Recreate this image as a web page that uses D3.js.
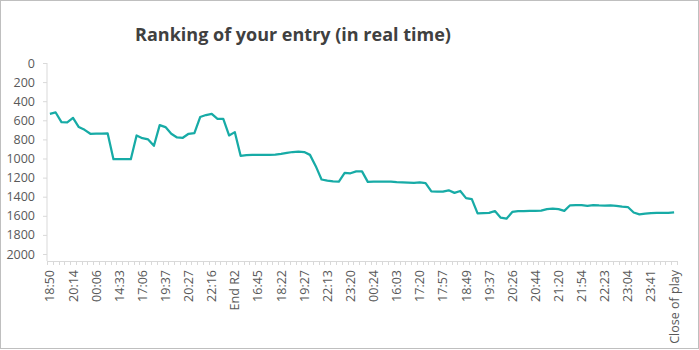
<!DOCTYPE html>
<html>
<head>
<meta charset="utf-8">
<script src="https://cdn.jsdelivr.net/npm/d3@7"></script>
<style>
  html, body { margin: 0; padding: 0; background: #fff; }
  svg { display: block; font-family: "Open Sans", "Noto Sans", sans-serif; }
</style>
</head>
<body>
<svg id="chart" width="699" height="350"></svg>
<script>
// ---- data ----
const title = "Ranking of your entry (in real time)";
// labels shown on the category axis (every 4th category)
const tickLabels = ["18:50","20:14","00:06","14:33","17:06","19:37","20:27","22:16","End R2",
  "16:45","18:22","19:27","22:13","23:20","00:24","16:03","17:20","17:57","18:49","19:37",
  "20:26","20:44","21:20","21:54","22:23","23:04","23:41","Close of play"];
const labelStep = 4;
// ranking at each update (109 updates)
const ranks = [
  532, 518, 619, 623, 574, 671, 700, 741, 740, 740,
  738, 1007, 1007, 1007, 1007, 759, 787, 800, 867, 650,
  671, 741, 780, 783, 741, 734, 566, 545, 532, 584,
  584, 759, 724, 972, 965, 962, 962, 962, 962, 960,
  951, 940, 932, 927, 932, 962, 1080, 1220, 1232, 1240,
  1241, 1150, 1155, 1135, 1135, 1245, 1242, 1241, 1241, 1242,
  1248, 1250, 1252, 1254, 1250, 1258, 1345, 1346, 1346, 1333,
  1360, 1340, 1415, 1425, 1575, 1572, 1570, 1550, 1620, 1630,
  1560, 1552, 1552, 1548, 1548, 1545, 1530, 1525, 1530, 1548,
  1490, 1487, 1488, 1495, 1488, 1492, 1493, 1492, 1495, 1505,
  1508, 1565, 1585, 1578, 1572, 1570, 1570, 1570, 1565
];
const yTicks = [0, 200, 400, 600, 800, 1000, 1200, 1400, 1600, 1800, 2000];

// ---- layout ----
const svg = d3.select("#chart");
const W = 699, H = 350;
const mLeft = 47, mRight = 677, mTop = 63, yBottom = 254, axisY = 261;
const lineColor = "#17ABA6";
const axisColor = "#d9d9d9";
const textColor = "#595959";

svg.append("rect").attr("x", 0.5).attr("y", 0.5).attr("width", W - 1).attr("height", H - 2)
  .attr("fill", "#fff").attr("stroke", "#bfbfbf");

svg.append("text").attr("x", 293).attr("y", 41).attr("text-anchor", "middle")
  .attr("font-size", 18).attr("font-weight", "bold").attr("fill", "#404040").text(title);

const idx = d3.range(ranks.length);
const x = d3.scaleBand().domain(idx).range([mLeft, mRight]).padding(0);
const y = d3.scaleLinear().domain([0, 2000]).range([mTop, yBottom]);

// y axis
const yAxis = svg.append("g").attr("transform", `translate(${mLeft},0)`)
  .call(d3.axisLeft(y).tickValues(yTicks).tickSize(4).tickPadding(8).tickFormat(d3.format("d")));
yAxis.select(".domain").attr("d", `M0,${mTop}V${axisY}`).attr("stroke", axisColor);
yAxis.selectAll(".tick line").attr("stroke", axisColor);
yAxis.selectAll(".tick text").attr("fill", textColor).attr("font-size", 12.5)
  .attr("font-family", "Open Sans, sans-serif");

// x axis: tick marks between categories
const bounds = d3.range(ranks.length + 1).map(i => mLeft + i * x.bandwidth());
const xg = svg.append("g");
xg.append("line").attr("x1", mLeft).attr("x2", mRight).attr("y1", axisY + 0.5).attr("y2", axisY + 0.5)
  .attr("stroke", axisColor);
xg.selectAll("line.tk").data(bounds).join("line").attr("class", "tk")
  .attr("x1", d => Math.round(d) + 0.5).attr("x2", d => Math.round(d) + 0.5)
  .attr("y1", axisY).attr("y2", axisY + 4).attr("stroke", axisColor);
xg.selectAll("text").data(tickLabels).join("text")
  .attr("transform", (d, i) => {
    const cx = x(i * labelStep) + x.bandwidth() / 2;
    return `translate(${cx + 4.5},${axisY + 9}) rotate(-90)`;
  })
  .attr("text-anchor", "end").attr("fill", textColor).attr("font-size", 12.5)
  .text(d => d);

// line
const line = d3.line().x((d, i) => x(i) + x.bandwidth() / 2).y(d => y(d));
svg.append("path").datum(ranks).attr("d", line).attr("fill", "none")
  .attr("stroke", lineColor).attr("stroke-width", 2.25).attr("stroke-linejoin", "round");
</script>
</body>
</html>
